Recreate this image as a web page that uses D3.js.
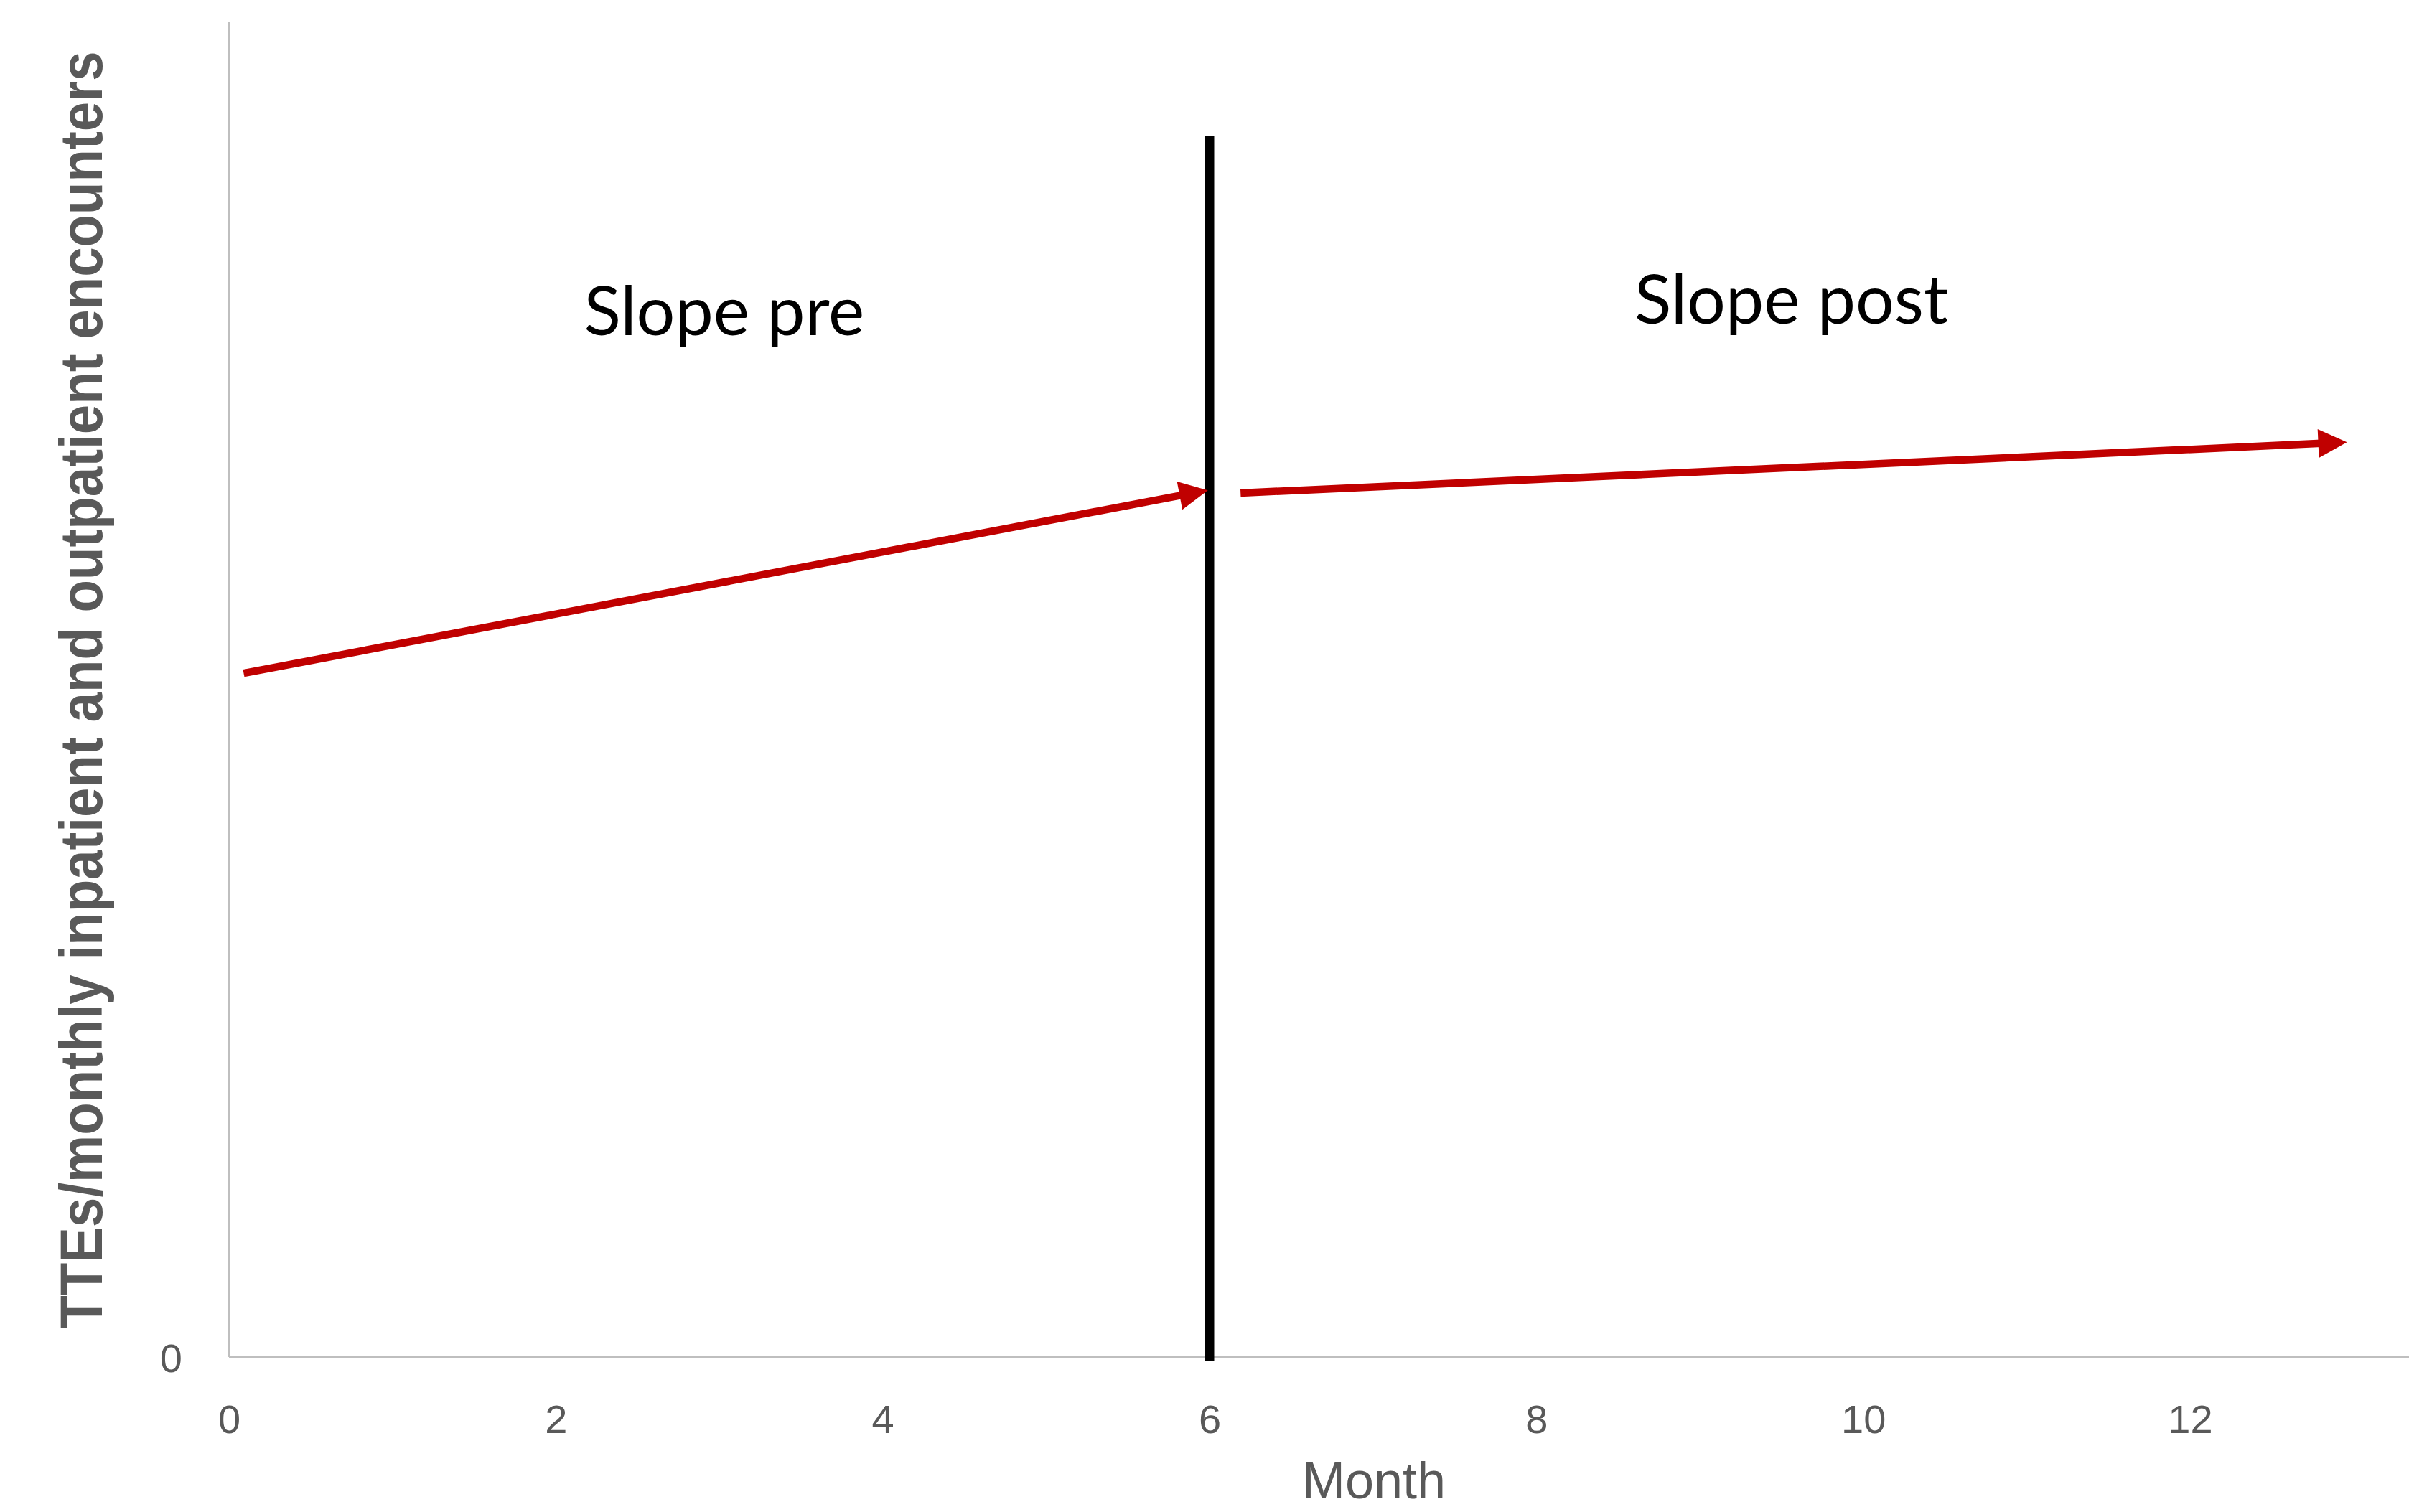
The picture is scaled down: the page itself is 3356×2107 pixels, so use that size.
<!DOCTYPE html>
<html>
<head>
<meta charset="utf-8">
<script src="https://cdn.jsdelivr.net/npm/d3@7"></script>
<style>
  html, body { margin: 0; padding: 0; background: #ffffff; }
  svg { display: block; }
</style>
</head>
<body>
<svg id="chart" width="3356" height="2107"></svg>
<script>
// ---- data ----
const xTickValues = [0, 2, 4, 6, 8, 10, 12];
const yTickValues = [0];
const xAxisTitle = "Month";
const yAxisTitle = "TTEs/monthly inpatient and outpatient encounters";
// trend arrows: [startMonth, startValue, endMonth, endValue]
const preSlope = [0.09, 5.12, 5.99, 6.49];
const postSlope = [6.19, 6.47, 12.96, 6.85];
// intervention line: month, top value, bottom value
const interventionLine = [6, 9.14, -0.03];
// annotation labels: text, month (centre), value (baseline)
const labelTexts = ["Slope pre", "Slope post"];
const labelMonths = [3.03, 9.56];
const labelValues = [7.65, 7.74];

// ---- layout ----
const W = 3356, H = 2107;
const svg = d3.select("#chart");
const x = d3.scaleLinear().domain([0, 12]).range([319, 3051]);
const y = d3.scaleLinear().domain([0, 10]).range([1891, 30]);
const axisColor = "#bfbfbf";
const textColor = "#595959";
const red = "#c00000";

// axis lines
svg.append("line")
  .attr("x1", x(0)).attr("x2", W)
  .attr("y1", y(0)).attr("y2", y(0))
  .attr("stroke", axisColor).attr("stroke-width", 3.5);
svg.append("line")
  .attr("x1", x(0)).attr("x2", x(0))
  .attr("y1", y(10)).attr("y2", y(0))
  .attr("stroke", axisColor).attr("stroke-width", 3.5);

// x axis labels
const xAxis = d3.axisBottom(x).tickValues(xTickValues).tickSize(0).tickPadding(0).tickFormat(d3.format("d"));
const gx = svg.append("g").attr("transform", `translate(0, ${y(0)})`).call(xAxis);
gx.select(".domain").remove();
gx.selectAll("text")
  .attr("y", 106).attr("dy", null)
  .attr("fill", textColor)
  .style("font-family", "'Liberation Sans', Arial, sans-serif")
  .style("font-size", "56px");

// y axis labels
const yAxis = d3.axisLeft(y).tickValues(yTickValues).tickSize(0).tickPadding(0).tickFormat(d3.format("d"));
const gy = svg.append("g").attr("transform", `translate(${x(0)}, 0)`).call(yAxis);
gy.select(".domain").remove();
gy.selectAll("text")
  .attr("x", -65).attr("dy", "0.36em")
  .attr("fill", textColor)
  .style("font-family", "'Liberation Sans', Arial, sans-serif")
  .style("font-size", "56px");

// axis titles
svg.append("text")
  .attr("x", 1914).attr("y", 2088)
  .attr("text-anchor", "middle")
  .attr("fill", textColor)
  .style("font-family", "'Liberation Sans', Arial, sans-serif")
  .style("font-size", "72px")
  .text(xAxisTitle);

svg.append("text")
  .attr("transform", "translate(142, 961) rotate(-90) scale(1, 1.12)")
  .attr("text-anchor", "middle")
  .attr("fill", textColor)
  .style("font-family", "'Liberation Sans', Arial, sans-serif")
  .style("font-weight", "bold")
  .style("font-size", "74.5px")
  .text(yAxisTitle);

// intervention line
svg.append("line")
  .attr("x1", x(interventionLine[0])).attr("x2", x(interventionLine[0]))
  .attr("y1", y(interventionLine[1])).attr("y2", y(interventionLine[2]))
  .attr("stroke", "#000000").attr("stroke-width", 13);

// arrows
function drawArrow(seg) {
  const x1 = x(seg[0]), y1 = y(seg[1]), x2 = x(seg[2]), y2 = y(seg[3]);
  const dx = x2 - x1, dy = y2 - y1;
  const len = Math.hypot(dx, dy);
  const ux = dx / len, uy = dy / len;
  const headLen = 40, headHalf = 20;
  const bx = x2 - ux * headLen, by = y2 - uy * headLen;
  svg.append("line")
    .attr("x1", x1).attr("y1", y1)
    .attr("x2", bx + ux * 4).attr("y2", by + uy * 4)
    .attr("stroke", red).attr("stroke-width", 10.5);
  const px = -uy, py = ux;
  svg.append("path")
    .attr("d", `M${x2},${y2} L${bx + px * headHalf},${by + py * headHalf} L${bx - px * headHalf},${by - py * headHalf} Z`)
    .attr("fill", red);
}
drawArrow(preSlope);
drawArrow(postSlope);

// annotation labels
labelTexts.forEach((t, i) => {
  svg.append("text")
    .attr("x", x(labelMonths[i]))
    .attr("y", y(labelValues[i]))
    .attr("text-anchor", "middle")
    .attr("fill", "#000000")
    .style("font-family", "Lato, 'Open Sans', sans-serif")
    .style("font-size", "95px")
    .text(t);
});
</script>
</body>
</html>
